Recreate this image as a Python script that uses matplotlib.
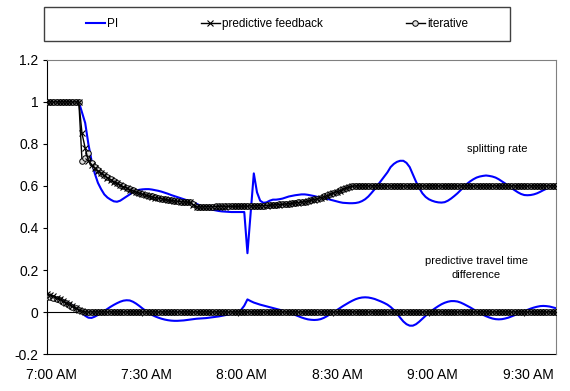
import matplotlib
matplotlib.use("Agg")
import matplotlib.pyplot as plt
from matplotlib.lines import Line2D
from matplotlib.patches import Rectangle
from matplotlib.transforms import ScaledTranslation

plt.rcParams['font.family'] = ['Liberation Sans', 'DejaVu Sans']

# minutes after 7:00 AM, one sample per minute
minutes = list(range(0, 161))

# splitting rate
pi_split = [
    1.0, 1.0, 1.0, 1.0, 1.0, 1.0, 1.0, 1.0, 1.0, 1.0,
    1.0, 0.95, 0.90, 0.80, 0.72, 0.66, 0.615, 0.585, 0.56, 0.545,
    0.535, 0.527, 0.525, 0.53, 0.54, 0.55, 0.56, 0.572, 0.578, 0.582,
    0.584, 0.585, 0.585, 0.583, 0.58, 0.577, 0.573, 0.568, 0.563, 0.557,
    0.552, 0.547, 0.542, 0.537, 0.532, 0.527, 0.522, 0.515, 0.508, 0.5,
    0.495, 0.49, 0.487, 0.484, 0.481, 0.479, 0.478, 0.477, 0.476, 0.476,
    0.476, 0.476, 0.476, 0.28, 0.47, 0.66, 0.57, 0.53, 0.52, 0.522,
    0.53, 0.535, 0.535, 0.537, 0.54, 0.545, 0.55, 0.553, 0.556, 0.558,
    0.56, 0.56, 0.558, 0.555, 0.552, 0.548, 0.545, 0.542, 0.539, 0.535,
    0.531, 0.527, 0.523, 0.52, 0.519, 0.518, 0.518, 0.519, 0.522, 0.528,
    0.537, 0.55, 0.567, 0.585, 0.605, 0.625, 0.645, 0.665, 0.69, 0.705,
    0.715, 0.72, 0.72, 0.71, 0.69, 0.655, 0.62, 0.59, 0.565, 0.548,
    0.537, 0.53, 0.525, 0.522, 0.521, 0.523, 0.53, 0.54, 0.552, 0.565,
    0.58, 0.595, 0.61, 0.622, 0.632, 0.64, 0.645, 0.648, 0.65, 0.648,
    0.645, 0.64, 0.632, 0.622, 0.612, 0.6, 0.59, 0.58, 0.57, 0.562,
    0.557, 0.556, 0.557, 0.56, 0.565, 0.572, 0.58, 0.587, 0.593, 0.598,
    0.6]
pf_split = [
    1.0, 1.0, 1.0, 1.0, 1.0, 1.0, 1.0, 1.0, 1.0, 1.0,
    1.0, 0.85, 0.78, 0.72, 0.70, 0.685, 0.67, 0.66, 0.65, 0.64,
    0.63, 0.62, 0.612, 0.604, 0.597, 0.59, 0.583, 0.577, 0.571, 0.566,
    0.561, 0.556, 0.552, 0.548, 0.545, 0.542, 0.539, 0.536, 0.533, 0.531,
    0.529, 0.527, 0.525, 0.524, 0.523, 0.522, 0.51, 0.50, 0.50, 0.50,
    0.501, 0.501, 0.501, 0.502, 0.502, 0.502, 0.502, 0.503, 0.503, 0.503,
    0.503, 0.504, 0.504, 0.504, 0.505, 0.505, 0.505, 0.506, 0.506, 0.507,
    0.508, 0.509, 0.51, 0.511, 0.512, 0.514, 0.515, 0.517, 0.519, 0.521,
    0.523, 0.525, 0.528, 0.531, 0.535, 0.539, 0.544, 0.549, 0.554, 0.56,
    0.566, 0.572, 0.578, 0.584, 0.59, 0.595, 0.598, 0.6, 0.6, 0.6,
    0.6, 0.6, 0.6, 0.6, 0.6, 0.6, 0.6, 0.6, 0.6, 0.6,
    0.6, 0.6, 0.6, 0.6, 0.6, 0.6, 0.6, 0.6, 0.6, 0.6,
    0.6, 0.6, 0.6, 0.6, 0.6, 0.6, 0.6, 0.6, 0.6, 0.6,
    0.6, 0.6, 0.6, 0.6, 0.6, 0.6, 0.6, 0.6, 0.6, 0.6,
    0.6, 0.6, 0.6, 0.6, 0.6, 0.6, 0.6, 0.6, 0.6, 0.6,
    0.6, 0.6, 0.6, 0.6, 0.6, 0.6, 0.6, 0.6, 0.6, 0.6,
    0.6]
iter_split = [
    1.0, 1.0, 1.0, 1.0, 1.0, 1.0, 1.0, 1.0, 1.0, 1.0,
    1.0, 0.72, 0.735, 0.755, 0.71, 0.69, 0.675, 0.663, 0.652, 0.642,
    0.632, 0.622, 0.614, 0.606, 0.599, 0.592, 0.585, 0.579, 0.573, 0.568,
    0.563, 0.558, 0.554, 0.55, 0.546, 0.543, 0.54, 0.537, 0.534, 0.532,
    0.53, 0.528, 0.526, 0.525, 0.524, 0.523, 0.512, 0.502, 0.501, 0.501,
    0.502, 0.502, 0.502, 0.503, 0.503, 0.503, 0.503, 0.504, 0.504, 0.504,
    0.504, 0.505, 0.505, 0.505, 0.506, 0.506, 0.506, 0.507, 0.507, 0.508,
    0.509, 0.51, 0.511, 0.512, 0.513, 0.515, 0.516, 0.518, 0.52, 0.522,
    0.524, 0.526, 0.529, 0.532, 0.536, 0.54, 0.545, 0.55, 0.555, 0.561,
    0.567, 0.573, 0.579, 0.585, 0.591, 0.596, 0.599, 0.601, 0.601, 0.601,
    0.601, 0.601, 0.601, 0.601, 0.601, 0.601, 0.601, 0.601, 0.601, 0.601,
    0.601, 0.601, 0.601, 0.601, 0.601, 0.601, 0.601, 0.601, 0.601, 0.601,
    0.601, 0.601, 0.601, 0.601, 0.601, 0.601, 0.601, 0.601, 0.601, 0.601,
    0.601, 0.601, 0.601, 0.601, 0.601, 0.601, 0.601, 0.601, 0.601, 0.601,
    0.601, 0.601, 0.601, 0.601, 0.601, 0.601, 0.601, 0.601, 0.601, 0.601,
    0.601, 0.601, 0.601, 0.601, 0.601, 0.601, 0.601, 0.601, 0.601, 0.601,
    0.601]

# predictive travel time difference
pi_tt = [
    0.075, 0.072, 0.068, 0.064, 0.06, 0.055, 0.049, 0.041, 0.031, 0.02,
    0.008, -0.005, -0.018, -0.027, -0.028, -0.022, -0.014, -0.005, 0.005, 0.015,
    0.025, 0.034, 0.042, 0.049, 0.054, 0.056, 0.055, 0.049, 0.04, 0.029,
    0.017, 0.006, -0.005, -0.014, -0.021, -0.027, -0.032, -0.036, -0.039, -0.041,
    -0.042, -0.042, -0.041, -0.04, -0.038, -0.036, -0.034, -0.032, -0.031, -0.03,
    -0.029, -0.027, -0.025, -0.023, -0.021, -0.018, -0.015, -0.012, -0.009, -0.005,
    0.0, 0.01, 0.03, 0.06, 0.052, 0.045, 0.04, 0.035, 0.031, 0.027,
    0.023, 0.019, 0.015, 0.011, 0.007, 0.003, -0.002, -0.008, -0.014, -0.02,
    -0.026, -0.031, -0.035, -0.037, -0.038, -0.037, -0.034, -0.028, -0.02, -0.01,
    -0.002, 0.008, 0.018, 0.028, 0.037, 0.046, 0.054, 0.061, 0.066, 0.069,
    0.07, 0.069, 0.066, 0.062, 0.056, 0.05, 0.043, 0.035, 0.024, 0.01,
    -0.007, -0.027, -0.045, -0.058, -0.065, -0.065, -0.058, -0.046, -0.032, -0.018,
    -0.005, 0.007, 0.018, 0.028, 0.037, 0.044, 0.049, 0.052, 0.052, 0.05,
    0.045, 0.038, 0.03, 0.022, 0.013, 0.004, -0.005, -0.013, -0.02, -0.026,
    -0.031, -0.034, -0.035, -0.034, -0.031, -0.027, -0.021, -0.015, -0.008, -0.002,
    0.004, 0.01, 0.016, 0.021, 0.025, 0.028, 0.029, 0.028, 0.026, 0.022,
    0.018]
pf_tt = [
    0.085, 0.08, 0.074, 0.067, 0.06, 0.052, 0.044, 0.036, 0.027, 0.018,
    0.01, 0.004, 0.0, 0.0, 0.0, 0.0, 0.0, 0.0, 0.0, 0.0,
    0.0, 0.0, 0.0, 0.0, 0.0, 0.0, 0.0, 0.0, 0.0, 0.0,
    0.0, 0.0, 0.0, 0.0, 0.0, 0.0, 0.0, 0.0, 0.0, 0.0,
    0.0, 0.0, 0.0, 0.0, 0.0, 0.0, 0.0, 0.0, 0.0, 0.0,
    0.0, 0.0, 0.0, 0.0, 0.0, 0.0, 0.0, 0.0, 0.0, 0.0,
    0.0, 0.0, 0.0, 0.0, 0.0, 0.0, 0.0, 0.0, 0.0, 0.0,
    0.0, 0.0, 0.0, 0.0, 0.0, 0.0, 0.0, 0.0, 0.0, 0.0,
    0.0, 0.0, 0.0, 0.0, 0.0, 0.0, 0.0, 0.0, 0.0, 0.0,
    0.0, 0.0, 0.0, 0.0, 0.0, 0.0, 0.0, 0.0, 0.0, 0.0,
    0.0, 0.0, 0.0, 0.0, 0.0, 0.0, 0.0, 0.0, 0.0, 0.0,
    0.0, 0.0, 0.0, 0.0, 0.0, 0.0, 0.0, 0.0, 0.0, 0.0,
    0.0, 0.0, 0.0, 0.0, 0.0, 0.0, 0.0, 0.0, 0.0, 0.0,
    0.0, 0.0, 0.0, 0.0, 0.0, 0.0, 0.0, 0.0, 0.0, 0.0,
    0.0, 0.0, 0.0, 0.0, 0.0, 0.0, 0.0, 0.0, 0.0, 0.0,
    0.0, 0.0, 0.0, 0.0, 0.0, 0.0, 0.0, 0.0, 0.0, 0.0,
    0.0]
iter_tt = [
    0.072, 0.07, 0.066, 0.061, 0.055, 0.048, 0.041, 0.033, 0.025, 0.017,
    0.009, 0.003, 0.0, 0.0, 0.0, 0.0, 0.0, 0.0, 0.0, 0.0,
    0.0, 0.0, 0.0, 0.0, 0.0, 0.0, 0.0, 0.0, 0.0, 0.0,
    0.0, 0.0, 0.0, 0.0, 0.0, 0.0, 0.0, 0.0, 0.0, 0.0,
    0.0, 0.0, 0.0, 0.0, 0.0, 0.0, 0.0, 0.0, 0.0, 0.0,
    0.0, 0.0, 0.0, 0.0, 0.0, 0.0, 0.0, 0.0, 0.0, 0.0,
    0.0, 0.0, 0.0, 0.0, 0.0, 0.0, 0.0, 0.0, 0.0, 0.0,
    0.0, 0.0, 0.0, 0.0, 0.0, 0.0, 0.0, 0.0, 0.0, 0.0,
    0.0, 0.0, 0.0, 0.0, 0.0, 0.0, 0.0, 0.0, 0.0, 0.0,
    0.0, 0.0, 0.0, 0.0, 0.0, 0.0, 0.0, 0.0, 0.0, 0.0,
    0.0, 0.0, 0.0, 0.0, 0.0, 0.0, 0.0, 0.0, 0.0, 0.0,
    0.0, 0.0, 0.0, 0.0, 0.0, 0.0, 0.0, 0.0, 0.0, 0.0,
    0.0, 0.0, 0.0, 0.0, 0.0, 0.0, 0.0, 0.0, 0.0, 0.0,
    0.0, 0.0, 0.0, 0.0, 0.0, 0.0, 0.0, 0.0, 0.0, 0.0,
    0.0, 0.0, 0.0, 0.0, 0.0, 0.0, 0.0, 0.0, 0.0, 0.0,
    0.0, 0.0, 0.0, 0.0, 0.0, 0.0, 0.0, 0.0, 0.0, 0.0,
    0.0]

series_names = ['PI', 'predictive feedback', 'iterative']
xtick_minutes = [0, 30, 60, 90, 120, 150]
xtick_labels = ['7:00 AM', '7:30 AM', '8:00 AM', '8:30 AM', '9:00 AM', '9:30 AM']
ytick_values = [-0.2, 0, 0.2, 0.4, 0.6, 0.8, 1.0, 1.2]
ytick_labels = ['-0.2', '0', '0.2', '0.4', '0.6', '0.8', '1', '1.2']

fig = plt.figure(figsize=(5.70, 3.91), dpi=100)
ax = fig.add_axes([0.0825, 0.0946, 0.893, 0.752])

blue_kw = dict(color='#0000FF', lw=1.5, zorder=2)
pf_kw = dict(color='black', lw=1.0, marker='x', ms=4.5, mew=0.8, zorder=5)
it_kw = dict(color='black', lw=1.0, marker='o', ms=4.0, mfc='#e0e0e0', mec='black', mew=0.7, zorder=4)

ax.plot(minutes, pi_split, label=series_names[0], **blue_kw)
ax.plot(minutes, pf_split, label=series_names[1], **pf_kw)
ax.plot(minutes, iter_split, label=series_names[2], **it_kw)
ax.plot(minutes, pi_tt, **blue_kw)
ax.plot(minutes, pf_tt, **pf_kw)
ax.plot(minutes, iter_tt, **it_kw)

ax.set_xlim(0, 160)
ax.set_ylim(-0.2, 1.2)

# category axis crosses at zero, labels sit at the bottom
ax.spines['bottom'].set_position(('data', 0))
ax.spines['bottom'].set_color('black')
ax.spines['left'].set_color('black')
ax.spines['top'].set_color('#808080')
ax.spines['right'].set_color('#808080')
ax.set_xticks(xtick_minutes)
ax.tick_params(axis='x', direction='out', length=3, width=0.8, labelbottom=False)
ax.set_yticks(ytick_values, labels=ytick_labels)
ax.tick_params(axis='y', direction='out', length=3, width=0.8, pad=3, labelsize=10)

sec = ax.secondary_xaxis(0.0)
sec.set_xticks(xtick_minutes, labels=xtick_labels)
sec.tick_params(length=0, pad=10, labelsize=10)
sec.spines['bottom'].set_color('black')
shift = ScaledTranslation(4 / 100, 0, fig.dpi_scale_trans)
for lbl in sec.get_xticklabels():
    lbl.set_transform(lbl.get_transform() + shift)

ax.text(141.5, 0.777, 'splitting rate', ha='center', va='center', fontsize=8)
ax.text(135, 0.21, 'predictive travel time\ndifference', ha='center', va='center',
        fontsize=8, linespacing=1.45)

# legend box above the plot
fig.add_artist(Rectangle((44 / 570, 1 - 41 / 391), 466 / 570, 34 / 391,
                         transform=fig.transFigure, fill=False,
                         edgecolor='#404040', lw=1))
handles = [Line2D([], [], **blue_kw),
           Line2D([], [], **pf_kw),
           Line2D([], [], **it_kw)]
fig.legend(handles, series_names, loc='center', bbox_to_anchor=(0.486, 0.9386),
           ncol=3, frameon=False, fontsize=8.5, handlelength=1.6,
           handletextpad=0.2, columnspacing=7.0, markerscale=1.0)

fig.savefig('out.png', dpi=100)
